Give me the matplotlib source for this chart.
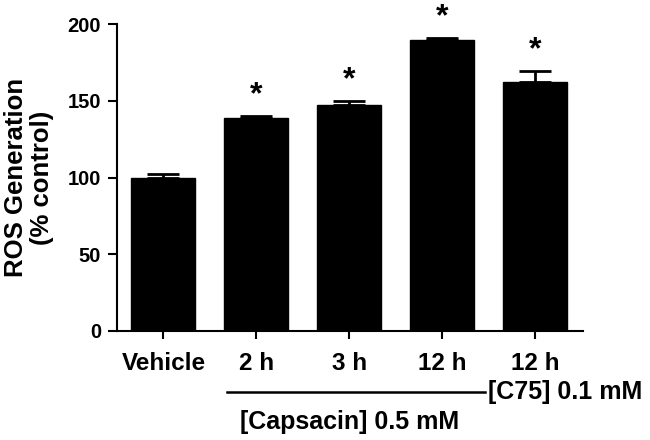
import numpy as np
import matplotlib.pyplot as plt

plt.rcParams['font.family'] = ['Liberation Sans', 'DejaVu Sans']
plt.rcParams['font.weight'] = 'bold'

groups = ["Vehicle", "2 h", "3 h", "12 h", "12 h"]
ros = [100, 139, 147, 190, 162]
sem = [2, 1, 3, 1, 7.5]
signif = [False, True, True, True, True]

fig = plt.figure(figsize=(6.5, 4.4), dpi=100)
ax = fig.add_axes([0.18, 0.248, 0.717, 0.697])

x = np.arange(len(groups))
ax.bar(x, ros, width=0.69, color="black", edgecolor="black", zorder=2)
ax.errorbar(x, ros, yerr=[np.zeros(len(sem)), sem], fmt="none", ecolor="black",
            elinewidth=2, capsize=11.5, capthick=2, zorder=3)

for xi, m, e, s in zip(x, ros, sem, signif):
    if s:
        ax.annotate("*", (xi, m + e), xytext=(0, 4), textcoords="offset points",
                    ha="center", va="bottom", fontsize=23, fontweight="bold")

ax.set_xlim(-0.5, 4.52)
ax.set_ylim(0, 200)
ax.set_yticks([0, 50, 100, 150, 200])
ax.set_xticks(x)
ax.set_xticklabels(groups, fontsize=17.5, fontweight="bold")
ax.tick_params(axis="y", labelsize=14.5, width=1.5, length=6.5, pad=5)
ax.tick_params(axis="x", width=1.5, length=6, pad=9)
for lab in ax.get_yticklabels():
    lab.set_fontweight("bold")

for side in ["top", "right"]:
    ax.spines[side].set_visible(False)
for side in ["left", "bottom"]:
    ax.spines[side].set_linewidth(1.5)

ax.set_ylabel("ROS Generation\n(% control)", fontsize=18.5, fontweight="bold",
              linespacing=1.1, labelpad=10)

trans = ax.get_xaxis_transform()
ax.plot([0.69, 3.46], [-0.199, -0.199], color="black", lw=1.8,
        transform=trans, clip_on=False)
ax.text(2.01, -0.296, "[Capsacin] 0.5 mM", transform=trans, ha="center",
        va="center", fontsize=18, fontweight="bold")
ax.text(3.5, -0.199, "[C75] 0.1 mM", transform=trans, ha="left",
        va="center", fontsize=18, fontweight="bold")

fig.savefig("out.png", dpi=100)
